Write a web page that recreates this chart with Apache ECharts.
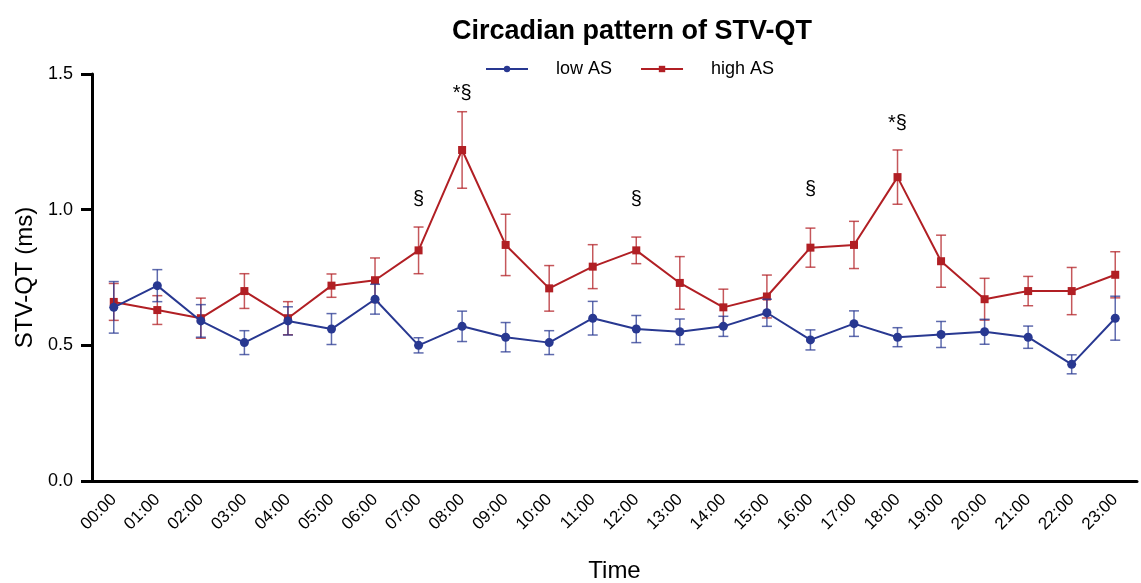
<!DOCTYPE html>
<html>
<head>
<meta charset="utf-8">
<script src="https://cdn.jsdelivr.net/npm/echarts@6/dist/echarts.min.js"></script>
<style>
html,body{margin:0;padding:0;background:#fff;}
#chart{width:1141px;height:583px;}
</style>
</head>
<body>
<div id="chart"></div>
<script>
const hours = ['00:00','01:00','02:00','03:00','04:00','05:00','06:00','07:00','08:00','09:00','10:00','11:00','12:00','13:00','14:00','15:00','16:00','17:00','18:00','19:00','20:00','21:00','22:00','23:00'];
const lowMean = [0.64,0.72,0.59,0.51,0.59,0.56,0.67,0.50,0.57,0.53,0.51,0.60,0.56,0.55,0.57,0.62,0.52,0.58,0.53,0.54,0.55,0.53,0.43,0.60];
const lowSem  = [0.095,0.059,0.060,0.044,0.052,0.057,0.055,0.028,0.056,0.054,0.044,0.062,0.050,0.047,0.037,0.050,0.037,0.047,0.035,0.048,0.046,0.041,0.035,0.081];
const highMean = [0.66,0.63,0.60,0.70,0.60,0.72,0.74,0.85,1.22,0.87,0.71,0.79,0.85,0.73,0.64,0.68,0.86,0.87,1.12,0.81,0.67,0.70,0.70,0.76];
const highSem  = [0.068,0.053,0.074,0.064,0.061,0.043,0.082,0.086,0.141,0.113,0.084,0.081,0.049,0.097,0.067,0.079,0.072,0.087,0.100,0.096,0.077,0.054,0.087,0.085];
const annotHours = ['07:00','08:00','12:00','16:00','18:00'];
const annotText  = ['§','*§','§','§','*§'];
const annotLevel = [1.036,1.429,1.036,1.075,1.316];
const yTicks = [0, 0.5, 1.0, 1.5];

const BLUE = '#283891';
const RED = '#B11F24';
const FONT = 'Liberation Sans, Arial, sans-serif';

function errData(mean, sem) {
  return hours.map((h, i) => [i, mean[i] - sem[i], mean[i] + sem[i]]);
}
function errRender(color) {
  return function (params, api) {
    const x = api.value(0);
    const lo = api.coord([x, api.value(1)]);
    const hi = api.coord([x, api.value(2)]);
    const hw = 5;
    const style = { stroke: color, lineWidth: 1.5, opacity: 0.75 };
    return {
      type: 'group',
      children: [
        { type: 'line', shape: { x1: lo[0], y1: lo[1], x2: hi[0], y2: hi[1] }, style: style },
        { type: 'line', shape: { x1: lo[0] - hw, y1: lo[1], x2: lo[0] + hw, y2: lo[1] }, style: style },
        { type: 'line', shape: { x1: hi[0] - hw, y1: hi[1], x2: hi[0] + hw, y2: hi[1] }, style: style }
      ]
    };
  };
}

const chart = echarts.init(document.getElementById('chart'), null, { renderer: 'canvas' });
chart.setOption({
  animation: false,
  backgroundColor: '#fff',
  textStyle: { fontFamily: FONT },
  title: {
    text: 'Circadian pattern of STV-QT',
    left: 627, textAlign: 'center', top: 13,
    textStyle: { fontSize: 27, fontWeight: 'bold', color: '#000', fontFamily: FONT }
  },
  legend: {
    data: ['low AS', 'high AS'],
    left: 480, top: 55,
    itemWidth: 42, itemHeight: 8, itemGap: 28,
    textStyle: { fontSize: 18, color: '#000', fontFamily: FONT, padding: [0, 0, 0, 23] }
  },
  grid: { left: 92, right: 4, top: 74, bottom: 102, containLabel: false, outerBoundsMode: 'none' },
  xAxis: {
    type: 'category',
    data: hours,
    boundaryGap: true,
    name: 'Time',
    nameLocation: 'middle',
    nameGap: 78,
    nameTextStyle: { fontSize: 24, color: '#000', fontFamily: FONT },
    axisLine: { lineStyle: { color: '#000', width: 3 } },
    axisTick: { alignWithLabel: true, length: 10, lineStyle: { color: '#000', width: 3 } },
    axisLabel: { rotate: 45, fontSize: 17, color: '#000', margin: 16, fontFamily: FONT, interval: 0 },
    splitLine: { show: false }
  },
  yAxis: {
    type: 'value',
    min: 0, max: 1.5, interval: 0.5,
    name: 'STV-QT (ms)',
    nameLocation: 'middle',
    nameGap: 52,
    nameTextStyle: { fontSize: 24, color: '#000', fontFamily: FONT },
    axisLine: { show: true, lineStyle: { color: '#000', width: 3 } },
    axisTick: { show: true, length: 11, lineStyle: { color: '#000', width: 3 } },
    axisLabel: { fontSize: 18, color: '#000', margin: 19, fontFamily: FONT,
      formatter: v => yTicks.indexOf(v) >= 0 ? v.toFixed(1) : '' },
    splitLine: { show: false }
  },
  series: [
    {
      name: 'high AS', type: 'line', data: highMean,
      symbol: 'rect', symbolSize: 8,
      itemStyle: { color: RED }, lineStyle: { color: RED, width: 2 }, z: 3
    },
    {
      name: 'high AS err', type: 'custom', data: errData(highMean, highSem),
      renderItem: errRender(RED), encode: { x: 0, y: [1, 2] }, z: 2, silent: true
    },
    {
      name: 'low AS', type: 'line', data: lowMean,
      symbol: 'circle', symbolSize: 9,
      itemStyle: { color: BLUE }, lineStyle: { color: BLUE, width: 2 }, z: 5
    },
    {
      name: 'low AS err', type: 'custom', data: errData(lowMean, lowSem),
      renderItem: errRender(BLUE), encode: { x: 0, y: [1, 2] }, z: 4, silent: true
    },
    {
      name: 'annotations', type: 'custom',
      data: annotHours.map((h, i) => [hours.indexOf(h), annotLevel[i], annotText[i]]),
      renderItem: function (params, api) {
        const p = api.coord([api.value(0), api.value(1)]);
        return {
          type: 'text',
          style: { x: p[0], y: p[1], text: annotText[params.dataIndex], fill: '#000',
            font: '20px ' + FONT, align: 'center', verticalAlign: 'middle' }
        };
      },
      encode: { x: 0, y: 1 }, z: 6, silent: true
    }
  ]
});
</script>
</body>
</html>
